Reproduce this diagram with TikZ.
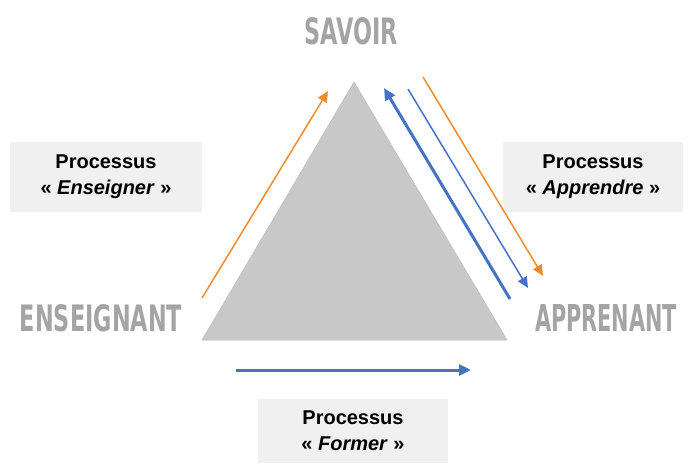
\documentclass[tikz,border=0pt]{standalone}
\usepackage{fontspec}
\setmainfont{Liberation Sans}
\newfontfamily\decofont{DejaVu Sans Condensed}
\usetikzlibrary{arrows.meta}
\definecolor{orgC}{HTML}{F08A2C}
\definecolor{bluC}{HTML}{4472C4}
\definecolor{boxC}{HTML}{F0F0F0}
\definecolor{triC}{HTML}{C8C8C8}
\definecolor{decoC}{HTML}{A4A4A4}
\tikzset{
  procbox/.style={fill=boxC, draw=none, minimum width=192pt, minimum height=70pt, inner sep=0pt,
    align=center, font=\fontsize{20}{26}\selectfont\bfseries},
  deco/.style={text=decoC, inner sep=0pt},
  orgarrow/.style={draw=orgC, line width=1.5pt, -{Triangle[length=11pt,width=10pt]}},
  bluthick/.style={draw=bluC, line width=3pt, -{Triangle[length=12pt,width=11pt]}},
  bluthin/.style={draw=bluC, line width=1.5pt, -{Triangle[length=11pt,width=10pt]}},
}
\begin{document}
\begin{tikzpicture}[x=1pt,y=-1pt]
\useasboundingbox (0,0) rectangle (690,464);
% triangle
\coordinate (apex) at (354,82);
\coordinate (bl) at (202,340);
\coordinate (br) at (507,340);
\fill[triC, draw=black!25, line width=0.6pt] (apex) -- (bl) -- (br) -- cycle;
% titles
\node[deco] (savoir) at (351,31) {\resizebox{93pt}{27pt}{\decofont\bfseries SAVOIR}};
\node[deco] (ens) at (101,318) {\resizebox{162pt}{27pt}{\decofont\bfseries ENSEIGNANT}};
\node[deco] (app) at (606,318) {\resizebox{142pt}{27pt}{\decofont\bfseries APPRENANT}};
% boxes
\node[procbox] (penseigner) at (106,177) {Processus\\« \textit{Enseigner} »};
\node[procbox, minimum width=180pt] (papprendre) at (593,177) {Processus\\« \textit{Apprendre} »};
\node[procbox, minimum width=190pt, minimum height=64pt] (pformer) at (353,431) {Processus\\« \textit{Former} »};
% arrow endpoints
\coordinate (o1s) at (202,298); \coordinate (o1e) at (328,91);
\coordinate (b1s) at (510,299); \coordinate (b1e) at (384,88);
\coordinate (b2s) at (408,89);  \coordinate (b2e) at (528,288);
\coordinate (o2s) at (423,77);  \coordinate (o2e) at (543,276);
\coordinate (b3s) at (236,370); \coordinate (b3e) at (471,370);
\draw[orgarrow] (o1s) -- (o1e);
\draw[bluthick] (b1s) -- (b1e);
\draw[bluthin] (b2s) -- (b2e);
\draw[orgarrow] (o2s) -- (o2e);
\draw[bluthick] (b3s) -- (b3e);
\end{tikzpicture}
\end{document}
